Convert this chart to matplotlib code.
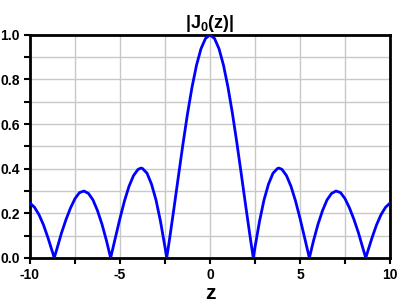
import matplotlib
matplotlib.use("Agg")
import matplotlib.pyplot as plt
from matplotlib.ticker import MultipleLocator, FormatStrFormatter

plt.rcParams['font.family'] = ['Liberation Sans', 'DejaVu Sans']
plt.rcParams['axes.unicode_minus'] = False
plt.rcParams['mathtext.fontset'] = 'custom'
plt.rcParams['mathtext.rm'] = 'Liberation Sans:bold'
plt.rcParams['mathtext.bf'] = 'Liberation Sans:bold'

# |J0(z)| values
z_vals = [-10.0, -9.75, -9.5, -9.25, -9.0, -8.75, -8.654, -8.5, -8.25, -8.0,
          -7.75, -7.5, -7.25, -7.0, -6.75, -6.5, -6.25, -6.0, -5.75, -5.52,
          -5.5, -5.25, -5.0, -4.75, -4.5, -4.25, -4.0, -3.83, -3.75, -3.5,
          -3.25, -3.0, -2.75, -2.5, -2.405, -2.25, -2.0, -1.75, -1.5, -1.25,
          -1.0, -0.75, -0.5, -0.25, 0.0, 0.25, 0.5, 0.75, 1.0, 1.25,
          1.5, 1.75, 2.0, 2.25, 2.405, 2.5, 2.75, 3.0, 3.25, 3.5,
          3.75, 3.83, 4.0, 4.25, 4.5, 4.75, 5.0, 5.25, 5.5, 5.52,
          5.75, 6.0, 6.25, 6.5, 6.75, 7.0, 7.25, 7.5, 7.75, 8.0,
          8.25, 8.5, 8.654, 8.75, 9.0, 9.25, 9.5, 9.75, 10.0]
j_vals = [0.246, 0.227, 0.194, 0.148, 0.090, 0.026, 0.0, 0.042, 0.112, 0.172,
          0.224, 0.266, 0.293, 0.300, 0.289, 0.260, 0.212, 0.151, 0.077, 0.0,
          0.007, 0.093, 0.178, 0.256, 0.321, 0.369, 0.397, 0.403, 0.401, 0.380,
          0.331, 0.260, 0.164, 0.048, 0.0, 0.083, 0.224, 0.369, 0.512, 0.646,
          0.765, 0.864, 0.938, 0.984, 1.0, 0.984, 0.938, 0.864, 0.765, 0.646,
          0.512, 0.369, 0.224, 0.083, 0.0, 0.048, 0.164, 0.260, 0.331, 0.380,
          0.401, 0.403, 0.397, 0.369, 0.321, 0.256, 0.178, 0.093, 0.007, 0.0,
          0.077, 0.151, 0.212, 0.260, 0.289, 0.300, 0.293, 0.266, 0.224, 0.172,
          0.112, 0.042, 0.0, 0.026, 0.090, 0.148, 0.194, 0.227, 0.246]

fig = plt.figure(figsize=(4.0, 3.06), dpi=100)
ax = fig.add_axes([0.075, 0.157, 0.9, 0.729])

ax.plot(z_vals, j_vals, color='#0000ff', linewidth=2, zorder=3)

ax.set_xlim(-10, 10)
ax.set_ylim(0, 1)
ax.xaxis.set_major_locator(MultipleLocator(5))
ax.xaxis.set_minor_locator(MultipleLocator(2.5))
ax.yaxis.set_major_locator(MultipleLocator(0.2))
ax.yaxis.set_minor_locator(MultipleLocator(0.1))
ax.yaxis.set_major_formatter(FormatStrFormatter('%.1f'))

ax.grid(True, which='both', color='#c8c8c8', linewidth=1)
ax.set_axisbelow(True)

for s in ax.spines.values():
    s.set_linewidth(2)
    s.set_color('black')

ax.tick_params(which='both', direction='out', width=1.5, length=4,
               top=False, right=False, labelsize=10)
for lab in ax.get_xticklabels() + ax.get_yticklabels():
    lab.set_fontweight('bold')

ax.set_title(r'|J$_{\mathbf{0}}$(z)|', fontsize=13, fontweight='bold', pad=5)
ax.set_xlabel('z', fontsize=15, fontweight='bold', labelpad=1)

fig.savefig('out.png', dpi=100)
